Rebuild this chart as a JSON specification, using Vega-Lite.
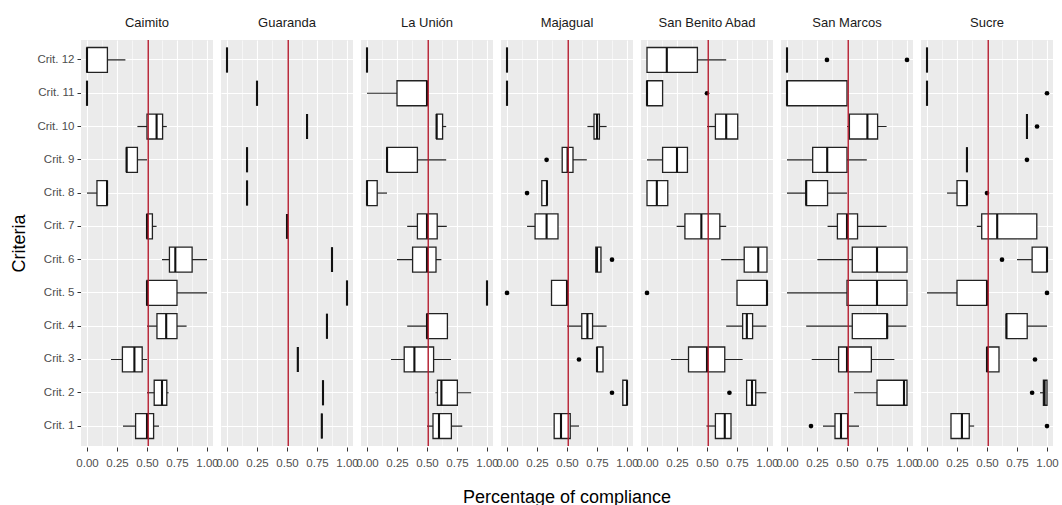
{
  "$schema": "https://vega.github.io/schema/vega-lite/v6.json",
  "padding": {"left": 10, "top": 17, "right": 0, "bottom": 0},
  "background": "white",
  "data": {"values": [
    {"m":"Caimito","c":"Crit. 12","lo":0,"q1":0,"med":0,"q3":0.17,"hi":0.32},
    {"m":"Caimito","c":"Crit. 11","lo":0,"q1":0,"med":0,"q3":0,"hi":0},
    {"m":"Caimito","c":"Crit. 10","lo":0.42,"q1":0.5,"med":0.58,"q3":0.63,"hi":0.665},
    {"m":"Caimito","c":"Crit. 9","lo":0.33,"q1":0.33,"med":0.33,"q3":0.42,"hi":0.5},
    {"m":"Caimito","c":"Crit. 8","lo":0,"q1":0.083,"med":0.167,"q3":0.167,"hi":0.167},
    {"m":"Caimito","c":"Crit. 7","lo":0.5,"q1":0.5,"med":0.5,"q3":0.545,"hi":0.58},
    {"m":"Caimito","c":"Crit. 6","lo":0.625,"q1":0.687,"med":0.736,"q3":0.876,"hi":1.0},
    {"m":"Caimito","c":"Crit. 5","lo":0.5,"q1":0.5,"med":0.5,"q3":0.75,"hi":1.0},
    {"m":"Caimito","c":"Crit. 4","lo":0.5,"q1":0.583,"med":0.66,"q3":0.75,"hi":0.83},
    {"m":"Caimito","c":"Crit. 3","lo":0.2,"q1":0.295,"med":0.395,"q3":0.46,"hi":0.5},
    {"m":"Caimito","c":"Crit. 2","lo":0.5,"q1":0.56,"med":0.625,"q3":0.665,"hi":0.68},
    {"m":"Caimito","c":"Crit. 1","lo":0.3,"q1":0.405,"med":0.5,"q3":0.555,"hi":0.6},

    {"m":"Guaranda","c":"Crit. 12","lo":0,"q1":0,"med":0,"q3":0,"hi":0},
    {"m":"Guaranda","c":"Crit. 11","lo":0.25,"q1":0.25,"med":0.25,"q3":0.25,"hi":0.25},
    {"m":"Guaranda","c":"Crit. 10","lo":0.667,"q1":0.667,"med":0.667,"q3":0.667,"hi":0.667},
    {"m":"Guaranda","c":"Crit. 9","lo":0.167,"q1":0.167,"med":0.167,"q3":0.167,"hi":0.167},
    {"m":"Guaranda","c":"Crit. 8","lo":0.167,"q1":0.167,"med":0.167,"q3":0.167,"hi":0.167},
    {"m":"Guaranda","c":"Crit. 7","lo":0.5,"q1":0.5,"med":0.5,"q3":0.5,"hi":0.5},
    {"m":"Guaranda","c":"Crit. 6","lo":0.875,"q1":0.875,"med":0.875,"q3":0.875,"hi":0.875},
    {"m":"Guaranda","c":"Crit. 5","lo":1,"q1":1,"med":1,"q3":1,"hi":1},
    {"m":"Guaranda","c":"Crit. 4","lo":0.833,"q1":0.833,"med":0.833,"q3":0.833,"hi":0.833},
    {"m":"Guaranda","c":"Crit. 3","lo":0.59,"q1":0.59,"med":0.59,"q3":0.59,"hi":0.59},
    {"m":"Guaranda","c":"Crit. 2","lo":0.8,"q1":0.8,"med":0.8,"q3":0.8,"hi":0.8},
    {"m":"Guaranda","c":"Crit. 1","lo":0.79,"q1":0.79,"med":0.79,"q3":0.79,"hi":0.79},

    {"m":"La Unión","c":"Crit. 12","lo":0,"q1":0,"med":0,"q3":0,"hi":0},
    {"m":"La Unión","c":"Crit. 11","lo":0,"q1":0.25,"med":0.5,"q3":0.5,"hi":0.5},
    {"m":"La Unión","c":"Crit. 10","lo":0.58,"q1":0.58,"med":0.58,"q3":0.63,"hi":0.66},
    {"m":"La Unión","c":"Crit. 9","lo":0.167,"q1":0.167,"med":0.167,"q3":0.42,"hi":0.66},
    {"m":"La Unión","c":"Crit. 8","lo":0,"q1":0,"med":0,"q3":0.085,"hi":0.167},
    {"m":"La Unión","c":"Crit. 7","lo":0.335,"q1":0.42,"med":0.5,"q3":0.585,"hi":0.665},
    {"m":"La Unión","c":"Crit. 6","lo":0.25,"q1":0.38,"med":0.5,"q3":0.575,"hi":0.62},
    {"m":"La Unión","c":"Crit. 5","lo":1,"q1":1,"med":1,"q3":1,"hi":1},
    {"m":"La Unión","c":"Crit. 4","lo":0.335,"q1":0.5,"med":0.5,"q3":0.67,"hi":0.67},
    {"m":"La Unión","c":"Crit. 3","lo":0.2,"q1":0.31,"med":0.395,"q3":0.555,"hi":0.7},
    {"m":"La Unión","c":"Crit. 2","lo":0.57,"q1":0.587,"med":0.62,"q3":0.753,"hi":0.868},
    {"m":"La Unión","c":"Crit. 1","lo":0.5,"q1":0.55,"med":0.6,"q3":0.703,"hi":0.794},

    {"m":"Majagual","c":"Crit. 12","lo":0,"q1":0,"med":0,"q3":0,"hi":0},
    {"m":"Majagual","c":"Crit. 11","lo":0,"q1":0,"med":0,"q3":0,"hi":0},
    {"m":"Majagual","c":"Crit. 10","lo":0.67,"q1":0.725,"med":0.75,"q3":0.77,"hi":0.83},
    {"m":"Majagual","c":"Crit. 9","lo":0.46,"q1":0.46,"med":0.505,"q3":0.55,"hi":0.665},
    {"m":"Majagual","c":"Crit. 8","lo":0.29,"q1":0.29,"med":0.333,"q3":0.333,"hi":0.333},
    {"m":"Majagual","c":"Crit. 7","lo":0.167,"q1":0.234,"med":0.33,"q3":0.425,"hi":0.425},
    {"m":"Majagual","c":"Crit. 6","lo":0.74,"q1":0.74,"med":0.75,"q3":0.783,"hi":0.783},
    {"m":"Majagual","c":"Crit. 5","lo":0.371,"q1":0.371,"med":0.5,"q3":0.5,"hi":0.5},
    {"m":"Majagual","c":"Crit. 4","lo":0.5,"q1":0.623,"med":0.67,"q3":0.713,"hi":0.83},
    {"m":"Majagual","c":"Crit. 3","lo":0.75,"q1":0.75,"med":0.75,"q3":0.8,"hi":0.8},
    {"m":"Majagual","c":"Crit. 2","lo":0.965,"q1":0.965,"med":1,"q3":1,"hi":1},
    {"m":"Majagual","c":"Crit. 1","lo":0.393,"q1":0.393,"med":0.45,"q3":0.527,"hi":0.6},
    {"m":"Majagual","c":"Crit. 9","out":0.33},
    {"m":"Majagual","c":"Crit. 8","out":0.167},
    {"m":"Majagual","c":"Crit. 6","out":0.875},
    {"m":"Majagual","c":"Crit. 5","out":0},
    {"m":"Majagual","c":"Crit. 3","out":0.6},
    {"m":"Majagual","c":"Crit. 2","out":0.875},

    {"m":"San Benito Abad","c":"Crit. 12","lo":0,"q1":0,"med":0.165,"q3":0.42,"hi":0.66},
    {"m":"San Benito Abad","c":"Crit. 11","lo":0,"q1":0,"med":0,"q3":0.13,"hi":0.13},
    {"m":"San Benito Abad","c":"Crit. 10","lo":0.5,"q1":0.57,"med":0.66,"q3":0.756,"hi":0.756},
    {"m":"San Benito Abad","c":"Crit. 9","lo":0,"q1":0.13,"med":0.25,"q3":0.337,"hi":0.337},
    {"m":"San Benito Abad","c":"Crit. 8","lo":0,"q1":0,"med":0.082,"q3":0.173,"hi":0.173},
    {"m":"San Benito Abad","c":"Crit. 7","lo":0.247,"q1":0.316,"med":0.453,"q3":0.607,"hi":0.66},
    {"m":"San Benito Abad","c":"Crit. 6","lo":0.618,"q1":0.81,"med":0.927,"q3":1,"hi":1},
    {"m":"San Benito Abad","c":"Crit. 5","lo":0.75,"q1":0.75,"med":1,"q3":1,"hi":1},
    {"m":"San Benito Abad","c":"Crit. 4","lo":0.66,"q1":0.797,"med":0.832,"q3":0.88,"hi":0.995},
    {"m":"San Benito Abad","c":"Crit. 3","lo":0.2,"q1":0.346,"med":0.5,"q3":0.648,"hi":0.797},
    {"m":"San Benito Abad","c":"Crit. 2","lo":0.83,"q1":0.83,"med":0.875,"q3":0.906,"hi":0.995},
    {"m":"San Benito Abad","c":"Crit. 1","lo":0.495,"q1":0.57,"med":0.648,"q3":0.7,"hi":0.7},
    {"m":"San Benito Abad","c":"Crit. 11","out":0.5},
    {"m":"San Benito Abad","c":"Crit. 5","out":0},
    {"m":"San Benito Abad","c":"Crit. 2","out":0.687},

    {"m":"San Marcos","c":"Crit. 12","lo":0,"q1":0,"med":0,"q3":0,"hi":0},
    {"m":"San Marcos","c":"Crit. 11","lo":0,"q1":0,"med":0,"q3":0.5,"hi":0.5},
    {"m":"San Marcos","c":"Crit. 10","lo":0.5,"q1":0.52,"med":0.67,"q3":0.755,"hi":0.83},
    {"m":"San Marcos","c":"Crit. 9","lo":0,"q1":0.214,"med":0.335,"q3":0.5,"hi":0.665},
    {"m":"San Marcos","c":"Crit. 8","lo":0,"q1":0.16,"med":0.16,"q3":0.338,"hi":0.5},
    {"m":"San Marcos","c":"Crit. 7","lo":0.338,"q1":0.42,"med":0.5,"q3":0.588,"hi":0.83},
    {"m":"San Marcos","c":"Crit. 6","lo":0.253,"q1":0.544,"med":0.75,"q3":1,"hi":1},
    {"m":"San Marcos","c":"Crit. 5","lo":0,"q1":0.5,"med":0.75,"q3":1,"hi":1},
    {"m":"San Marcos","c":"Crit. 4","lo":0.16,"q1":0.544,"med":0.835,"q3":0.835,"hi":0.995},
    {"m":"San Marcos","c":"Crit. 3","lo":0.206,"q1":0.43,"med":0.5,"q3":0.703,"hi":0.895},
    {"m":"San Marcos","c":"Crit. 2","lo":0.558,"q1":0.75,"med":0.975,"q3":1,"hi":1},
    {"m":"San Marcos","c":"Crit. 1","lo":0.3,"q1":0.4,"med":0.45,"q3":0.505,"hi":0.6},
    {"m":"San Marcos","c":"Crit. 12","out":0.333},
    {"m":"San Marcos","c":"Crit. 12","out":1},
    {"m":"San Marcos","c":"Crit. 1","out":0.2},

    {"m":"Sucre","c":"Crit. 12","lo":0,"q1":0,"med":0,"q3":0,"hi":0},
    {"m":"Sucre","c":"Crit. 11","lo":0,"q1":0,"med":0,"q3":0,"hi":0},
    {"m":"Sucre","c":"Crit. 10","lo":0.833,"q1":0.833,"med":0.833,"q3":0.833,"hi":0.833},
    {"m":"Sucre","c":"Crit. 9","lo":0.333,"q1":0.333,"med":0.333,"q3":0.333,"hi":0.333},
    {"m":"Sucre","c":"Crit. 8","lo":0.167,"q1":0.25,"med":0.333,"q3":0.333,"hi":0.333},
    {"m":"Sucre","c":"Crit. 7","lo":0.415,"q1":0.456,"med":0.585,"q3":0.915,"hi":0.915},
    {"m":"Sucre","c":"Crit. 6","lo":0.75,"q1":0.876,"med":1,"q3":1,"hi":1},
    {"m":"Sucre","c":"Crit. 5","lo":0,"q1":0.25,"med":0.5,"q3":0.5,"hi":0.5},
    {"m":"Sucre","c":"Crit. 4","lo":0.662,"q1":0.662,"med":0.662,"q3":0.835,"hi":1},
    {"m":"Sucre","c":"Crit. 3","lo":0.5,"q1":0.5,"med":0.5,"q3":0.6,"hi":0.6},
    {"m":"Sucre","c":"Crit. 2","lo":0.942,"q1":0.97,"med":0.98,"q3":1,"hi":1},
    {"m":"Sucre","c":"Crit. 1","lo":0.2,"q1":0.2,"med":0.291,"q3":0.352,"hi":0.393},
    {"m":"Sucre","c":"Crit. 11","out":1},
    {"m":"Sucre","c":"Crit. 10","out":0.917},
    {"m":"Sucre","c":"Crit. 9","out":0.833},
    {"m":"Sucre","c":"Crit. 8","out":0.5},
    {"m":"Sucre","c":"Crit. 6","out":0.625},
    {"m":"Sucre","c":"Crit. 5","out":1},
    {"m":"Sucre","c":"Crit. 3","out":0.9},
    {"m":"Sucre","c":"Crit. 2","out":0.876},
    {"m":"Sucre","c":"Crit. 1","out":1}
  ]},
  "facet": {
    "column": {
      "field": "m", "type": "nominal", "title": "Percentage of compliance",
      "header": {
        "labelOrient": "top", "titleOrient": "bottom",
        "labelFont": "Liberation Sans", "labelFontSize": 13, "labelColor": "#1A1A1A", "labelPadding": 9,
        "titleFont": "Liberation Sans", "titleFontSize": 18, "titleFontWeight": "normal", "titleColor": "#000000", "titlePadding": 10
      }
    }
  },
  "spacing": 8,
  "spec": {
    "width": 132,
    "height": 406,
    "resolve": {"axis": {"x": "independent"}},
    "layer": [
      {
        "transform": [{"filter": "isValid(datum.q1)"}],
        "mark": {"type": "rule", "color": "#222222", "strokeWidth": 1.2},
        "encoding": {
          "y": {
            "field": "c", "type": "nominal",
            "sort": ["Crit. 12","Crit. 11","Crit. 10","Crit. 9","Crit. 8","Crit. 7","Crit. 6","Crit. 5","Crit. 4","Crit. 3","Crit. 2","Crit. 1"],
            "scale": {"type": "band", "paddingInner": 0.25, "paddingOuter": 0.225},
            "title": "Criteria",
            "axis": {
              "bandPosition": 0.5, "domain": false, "grid": true, "gridColor": "#FFFFFF", "gridWidth": 1.1,
              "tickColor": "#333333", "tickSize": 4, "labelColor": "#4D4D4D", "labelFontSize": 11.5, "labelFont": "Liberation Sans",
              "labelPadding": 3, "titleFont": "Liberation Sans", "titleFontSize": 18, "titleFontWeight": "normal", "titleColor": "#000000", "titlePadding": 8
            }
          },
          "x": {
            "field": "lo", "type": "quantitative", "title": null,
            "scale": {"domain": [-0.05, 1.05], "nice": false, "zero": false},
            "axis": {
              "orient": "bottom",
              "values": [0, 0.25, 0.5, 0.75, 1], "format": ".2f",
              "domain": false, "grid": true, "gridColor": "#FFFFFF", "gridWidth": 1.1,
              "tickColor": "#333333", "tickSize": 4,
              "labelColor": "#4D4D4D", "labelFontSize": 11.5, "labelFont": "Liberation Sans", "labelPadding": 6,
              "labelOverlap": false, "labelBound": false, "labelFlush": false
            }
          },
          "x2": {"field": "hi"}
        }
      },
      {
        "transform": [{"filter": "isValid(datum.q1)"}],
        "mark": {"type": "bar", "fill": "#FFFFFF", "stroke": "#222222", "strokeWidth": 1.3},
        "encoding": {
          "y": {"field": "c", "type": "nominal", "sort": ["Crit. 12","Crit. 11","Crit. 10","Crit. 9","Crit. 8","Crit. 7","Crit. 6","Crit. 5","Crit. 4","Crit. 3","Crit. 2","Crit. 1"]},
          "x": {
            "field": "q1", "type": "quantitative",
            "axis": {
              "orient": "top", "values": [0.125, 0.375, 0.625, 0.875],
              "grid": true, "gridColor": "#FFFFFF", "gridWidth": 0.55,
              "labels": false, "ticks": false, "domain": false, "title": null
            }
          },
          "x2": {"field": "q3"}
        }
      },
      {
        "transform": [{"filter": "isValid(datum.q1)"}],
        "mark": {"type": "bar", "fill": "#FFFFFF", "stroke": "#111111", "strokeWidth": 2.1},
        "encoding": {
          "y": {"field": "c", "type": "nominal", "sort": ["Crit. 12","Crit. 11","Crit. 10","Crit. 9","Crit. 8","Crit. 7","Crit. 6","Crit. 5","Crit. 4","Crit. 3","Crit. 2","Crit. 1"]},
          "x": {"field": "med", "type": "quantitative", "axis": null}, "x2": {"field": "med"}
        }
      },
      {
        "transform": [{"filter": "isValid(datum.out)"}],
        "mark": {"type": "point", "filled": true, "color": "#000000", "opacity": 1, "size": 22},
        "encoding": {
          "y": {"field": "c", "type": "nominal", "sort": ["Crit. 12","Crit. 11","Crit. 10","Crit. 9","Crit. 8","Crit. 7","Crit. 6","Crit. 5","Crit. 4","Crit. 3","Crit. 2","Crit. 1"]},
          "x": {"field": "out", "type": "quantitative", "axis": null}
        }
      },
      {
        "transform": [{"filter": "datum.c === 'Crit. 1' && isValid(datum.q1)"}],
        "mark": {"type": "rule", "color": "#B2182B", "strokeWidth": 1.4},
        "encoding": {"x": {"datum": 0.51, "axis": null}}
      }
    ]
  },
  "config": {
    "view": {"fill": "#EBEBEB", "stroke": null},
    "font": "Liberation Sans"
  }
}
